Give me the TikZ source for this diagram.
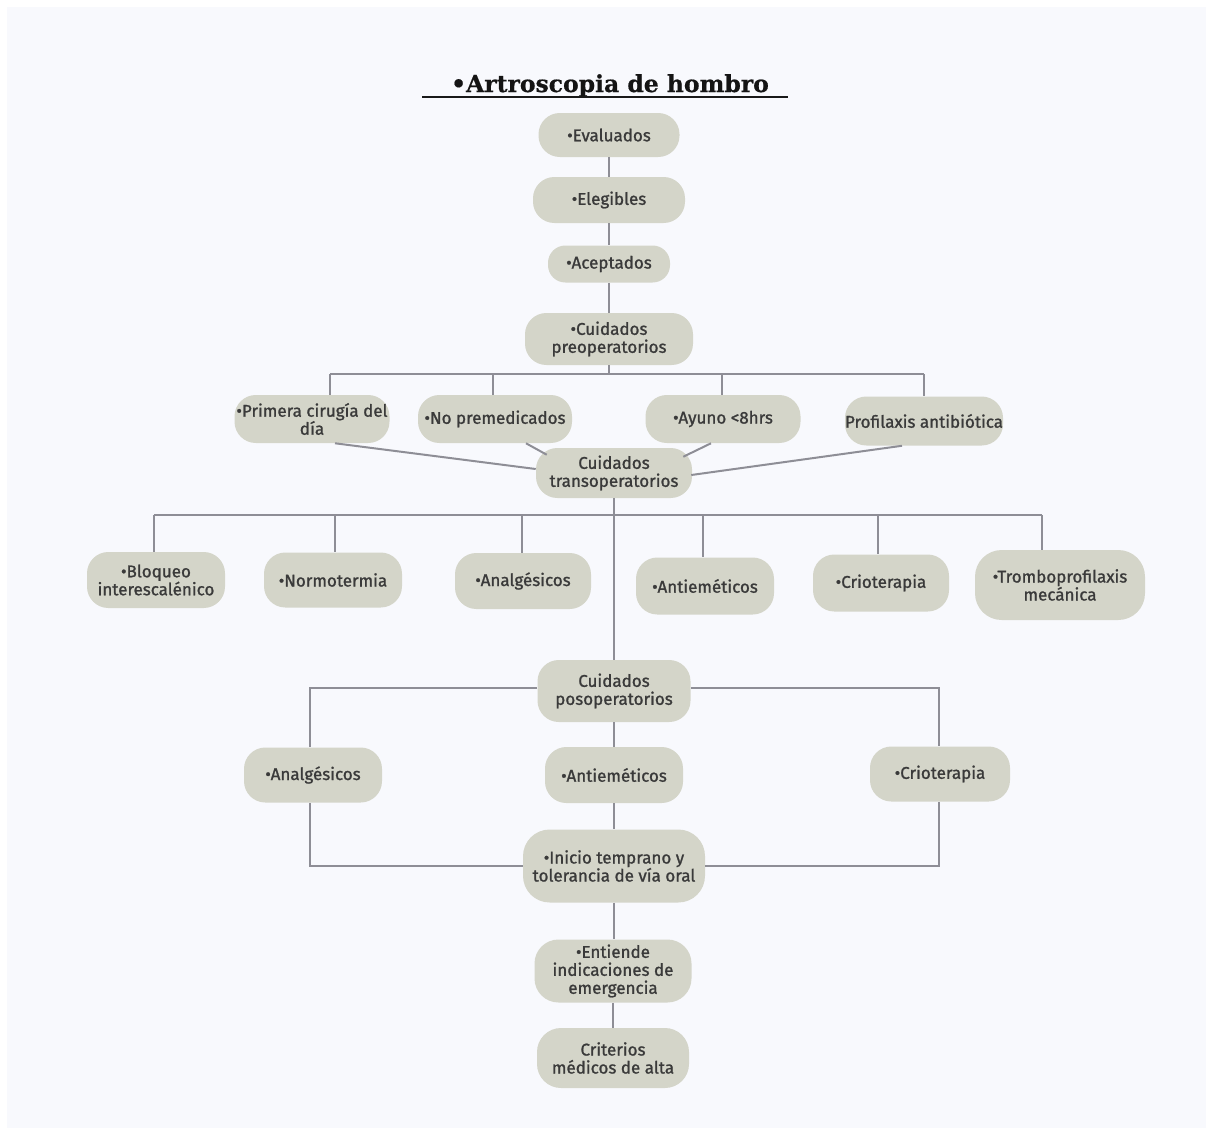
\documentclass[tikz,border=0pt]{standalone}
\usepackage{fontspec}
\usetikzlibrary{calc}
\newfontfamily\nodefont[FakeBold=1.2]{Fira Sans}
\newfontfamily\titlefont[FakeBold=0.6]{DejaVu Serif}
\definecolor{bgcol}{HTML}{F8F9FD}
\definecolor{boxfill}{HTML}{D4D5C9}
\definecolor{txtcol}{HTML}{3A3A3A}
\definecolor{linecol}{HTML}{8E8E96}
\tikzset{
  box/.style={fill=boxfill, rounded corners=16pt, align=center, inner sep=0pt,
    text=txtcol, font=\nodefont\fontsize{12.75pt}{13.5pt}\selectfont},
  sz/.style 2 args={minimum width=#1*0.75pt, minimum height=#2*0.75pt},
  conn/.style={draw=linecol, line width=1.5pt}
}
\begin{document}
\begin{tikzpicture}[x=0.75pt, y=-0.75pt]
\fill[white] (0,0) rectangle (1206,1128);
\fill[bgcol] (7,7) rectangle (1206,1128);
\useasboundingbox (0,0) rectangle (1206,1128);

% title
\node[font=\titlefont\bfseries\fontsize{17.6pt}{20pt}\selectfont, text=black!92, inner sep=0pt, anchor=base] (title) at (610,92) {•Artroscopia de hombro};
\coordinate (ul1) at (422,97);
\coordinate (ul2) at (788,97);
\draw[black!90, line width=2pt] (ul1) -- (ul2);

% top chain
\node[box, sz={141}{44}] (ev) at (609,135) {•Evaluados};
\node[box, sz={152}{46}] (el) at (609,200) {•Elegibles};
\node[box, sz={122}{37}, rounded corners=13pt] (ac) at (609,264) {•Aceptados};
\node[box, sz={168}{52}] (pre) at (609,339) {•Cuidados\\preoperatorios};

% preop children
\node[box, sz={155}{48}] (prim) at (312,419) {•Primera cirugía del\\día};
\node[box, sz={154}{48}] (nop) at (495,419) {•No premedicados};
\node[box, sz={155}{48}] (ayu) at (723,419) {•Ayuno <8hrs};
\node[box, sz={155}{49}] (pro) at (924,421) {Profilaxis antibiótica};

\node[box, sz={156}{50}] (trans) at (614,473) {Cuidados\\transoperatorios};

% transop children
\node[box, sz={138}{56}] (blo) at (156,580) {•Bloqueo\\interescalénico};
\node[box, sz={138}{55}] (nor) at (333,580) {•Normotermia};
\node[box, sz={136}{56}] (ana1) at (523,581) {•Analgésicos};
\node[box, sz={138}{57}] (ant1) at (705,586) {•Antieméticos};
\node[box, sz={136}{57}] (cri1) at (881,583) {•Crioterapia};
\node[box, sz={170}{70}, rounded corners=20pt] (tro) at (1060,585) {•Tromboprofilaxis\\mecánica};

% postop
\node[box, sz={153}{62}] (pos) at (614,691) {Cuidados\\posoperatorios};
\node[box, sz={138}{55}] (ana2) at (313,775) {•Analgésicos};
\node[box, sz={138}{56}] (ant2) at (614,775) {•Antieméticos};
\node[box, sz={140}{55}] (cri2) at (940,774) {•Crioterapia};
\node[box, sz={182}{73}, rounded corners=20pt] (ini) at (614,866) {•Inicio temprano y\\tolerancia de vía oral};
\node[box, sz={157}{63}, rounded corners=18pt] (ent) at (613,971) {•Entiende\\indicaciones de\\emergencia};
\node[box, sz={152}{60}, rounded corners=18pt] (crit) at (613,1058) {Criterios\\médicos de alta};

% connectors: top chain
\draw[conn] (ev.south) -- (el.north);
\draw[conn] (el.south) -- (ac.north);
\draw[conn] (ac.south) -- (pre.north);

% preop bus
\coordinate (pb) at (609,374);
\coordinate (pb1) at (330,374);
\coordinate (pb2) at (493,374);
\coordinate (pb3) at (722,374);
\coordinate (pb4) at (924,374);
\draw[conn] (pre.south) -- (pb);
\draw[conn] (pb1) -- (pb4);
\draw[conn] (pb1) -- (pb1 |- prim.north);
\draw[conn] (pb2) -- (pb2 |- nop.north);
\draw[conn] (pb3) -- (pb3 |- ayu.north);
\draw[conn] (pb4) -- (pb4 |- pro.north);

% preop children to transop
\draw[conn] ($(prim.south)+(23,0)$) -- ($(trans.west)+(0,-4)$);
\draw[conn] ($(nop.south)+(31,0)$) -- ($(trans.north west)+(11,7)$);
\draw[conn] ($(ayu.south)+(-12,0)$) -- ($(trans.north east)+(-9,9)$);
\draw[conn] ($(pro.south)+(-22,0)$) -- ($(trans.east)+(-1,2)$);

% transop bus
\coordinate (tb1) at (154,515);
\coordinate (tb2) at (335,515);
\coordinate (tb3) at (522,515);
\coordinate (tb4) at (703,515);
\coordinate (tb5) at (878,515);
\coordinate (tb6) at (1042,515);
\draw[conn] (tb1) -- (tb6);
\draw[conn] (tb1) -- (tb1 |- blo.north);
\draw[conn] (tb2) -- (tb2 |- nor.north);
\draw[conn] (tb3) -- (tb3 |- ana1.north);
\draw[conn] (tb4) -- (tb4 |- ant1.north);
\draw[conn] (tb5) -- (tb5 |- cri1.north);
\draw[conn] (tb6) -- (tb6 |- tro.north);
\draw[conn] (trans.south) -- (pos.north);

% postop brackets
\coordinate (lb) at (310,688);
\coordinate (rb) at (939,688);
\draw[conn] (pos.west |- lb) -- (lb) -- (lb |- ana2.north);
\draw[conn] (pos.east |- rb) -- (rb) -- (rb |- cri2.north);
\draw[conn] (pos.south) -- (ant2.north);
\draw[conn] (ant2.south) -- (ini.north);
\draw[conn] (lb |- ana2.south) |- (ini.west);
\draw[conn] (rb |- cri2.south) |- (ini.east);
\draw[conn] (ini.south) -- (ini.south |- ent.north);
\draw[conn] (ent.south) -- (crit.north);
\end{tikzpicture}
\end{document}
